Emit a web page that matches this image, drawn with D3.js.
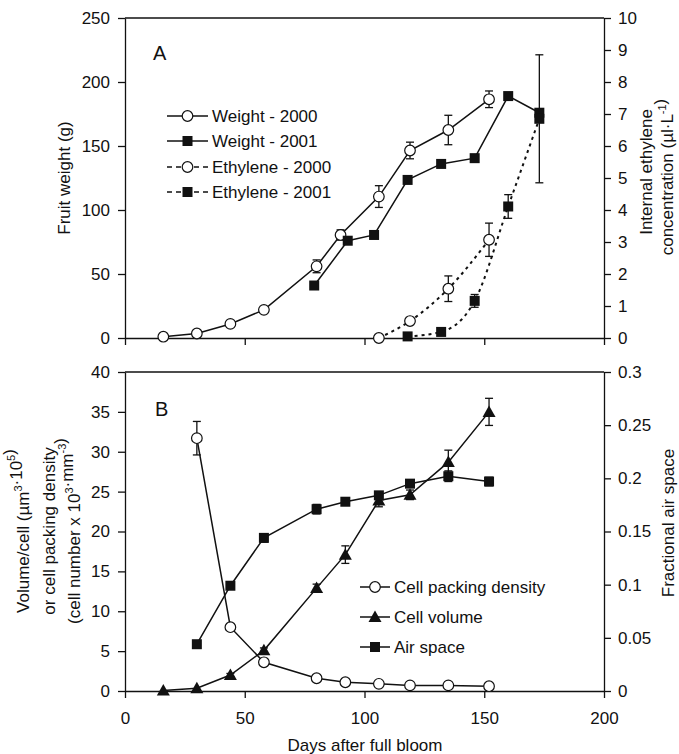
<!DOCTYPE html>
<html lang="en">
<head>
<meta charset="utf-8">
<title>Fruit weight, ethylene and cell data</title>
<style>
  body { margin: 0; background: #fff; }
  svg text { font-family: 'Liberation Sans', Arial, sans-serif; fill: #111; }
  .axis text { font-size: 17px; }
  .axis path, .axis line { stroke: #111; stroke-width: 1.3; }
</style>
<script src="https://d3js.org/d3.v7.min.js"></script>
</head>
<body>
<svg id="chart" width="679" height="754"></svg>
<script>
// panel A - fruit weight (g)
var days2000 = [16, 30, 44, 58, 80, 90, 106, 119, 135, 152];
var weight2000 = [1, 3.5, 11, 22, 56, 80.5, 110.5, 146.5, 162.5, 186.5];
var weight2000Err = [0, 0, 0, 0, 5, 4, 8.5, 6.5, 11.5, 6.5];
var days2001 = [79, 93, 104, 118, 132, 146, 160, 173];
var weight2001 = [41, 76, 80.5, 123.5, 136, 140.5, 189, 176];
// panel A - internal ethylene (ul/L)
var ethDays2000 = [106, 119, 135, 152];
var eth2000 = [0, 0.53, 1.54, 3.07];
var eth2000Err = [0, 0.1, 0.4, 0.52];
var ethDays2001 = [118, 132, 146, 160, 173];
var eth2001 = [0.05, 0.19, 1.16, 4.11, 6.85];
var eth2001Err = [0, 0, 0.2, 0.37, 2.0];
// panel B
var packDays = [30, 44, 58, 80, 92, 106, 119, 135, 152];
var packVals = [31.7, 8.0, 3.6, 1.6, 1.1, 0.9, 0.7, 0.7, 0.6];
var packErr = [2.1, 0, 0, 0, 0, 0, 0, 0, 0];
var volDays = [16, 30, 44, 58, 80, 92, 106, 119, 135, 152];
var volVals = [0.05, 0.35, 2.0, 5.1, 12.9, 17.1, 23.9, 24.6, 28.7, 35.0];
var volErr = [0, 0, 0.2, 0.3, 0.5, 1.1, 0.8, 0.6, 1.5, 1.7];
var airDays = [30, 44, 58, 80, 92, 106, 119, 135, 152];
var airVals = [0.044, 0.099, 0.144, 0.171, 0.178, 0.184, 0.195, 0.202, 0.197];
var airErr = [0, 0.002, 0.004, 0.0045, 0.002, 0.003, 0.002, 0.005, 0.004];

var xTicks = [0, 50, 100, 150, 200];
var weightTicks = [0, 50, 100, 150, 200, 250];
var ethTicks = [0, 1, 2, 3, 4, 5, 6, 7, 8, 9, 10];
var leftBTicks = [0, 5, 10, 15, 20, 25, 30, 35, 40];
var airTicks = [0, 0.05, 0.1, 0.15, 0.2, 0.25, 0.3];

var svg = d3.select("#chart");
var x = d3.scaleLinear().domain([0, 200]).range([125, 604]);
var yW = d3.scaleLinear().domain([0, 250]).range([338, 18]);
var yE = d3.scaleLinear().domain([0, 10]).range([338, 18]);
var yV = d3.scaleLinear().domain([0, 40]).range([691, 372]);
var yA = d3.scaleLinear().domain([0, 0.3]).range([691, 372]);

function zip(xs, ys, es) {
  return xs.map(function (d, i) { return { x: d, y: ys[i], e: es ? es[i] : 0 }; });
}

// axes
function frame(top, bottom, yl, yr, lt, rt, showX) {
  svg.append("g").attr("class", "axis").attr("transform", "translate(125,0)")
    .call(d3.axisLeft(yl).tickValues(lt).tickSize(7).tickPadding(8).tickSizeOuter(0));
  svg.append("g").attr("class", "axis").attr("transform", "translate(604,0)")
    .call(d3.axisRight(yr).tickValues(rt).tickSize(7).tickPadding(7).tickSizeOuter(0)
      .tickFormat(function (d) { return d === 0 ? "0" : String(+d.toFixed(2)); }));
  var ax = d3.axisBottom(x).tickValues(xTicks).tickSize(7).tickPadding(14).tickSizeOuter(0);
  if (!showX) ax.tickFormat("");
  svg.append("g").attr("class", "axis").attr("transform", "translate(0," + bottom + ")").call(ax);
  svg.append("line").attr("x1", 125).attr("x2", 604).attr("y1", top).attr("y2", top)
    .attr("stroke", "#111").attr("stroke-width", 1.3);
}
frame(18, 338, yW, yE, weightTicks, ethTicks, false);
frame(372, 691, yV, yA, leftBTicks, airTicks, true);

function errBars(data, ys) {
  var g = svg.append("g").attr("stroke", "#111").attr("stroke-width", 1.3);
  data.filter(function (d) { return d.e > 0; }).forEach(function (d) {
    var cx = x(d.x), y1 = ys(d.y + d.e), y2 = ys(d.y - d.e);
    g.append("line").attr("x1", cx).attr("x2", cx).attr("y1", y1).attr("y2", y2);
    g.append("line").attr("x1", cx - 4).attr("x2", cx + 4).attr("y1", y1).attr("y2", y1);
    g.append("line").attr("x1", cx - 4).attr("x2", cx + 4).attr("y1", y2).attr("y2", y2);
  });
}

function series(data, ys, shape, dash, curve) {
  var line = d3.line().x(function (d) { return x(d.x); }).y(function (d) { return ys(d.y); })
    .curve(curve || d3.curveLinear);
  svg.append("path").datum(data).attr("fill", "none").attr("stroke", "#111")
    .attr("stroke-width", dash ? 2 : 1.5).attr("stroke-dasharray", dash || null).attr("d", line);
  errBars(data, ys);
  data.forEach(function (d) { marker(x(d.x), ys(d.y), shape); });
}

function marker(cx, cy, shape) {
  if (shape === "circle") {
    svg.append("circle").attr("cx", cx).attr("cy", cy).attr("r", 5.3)
      .attr("fill", "#fff").attr("stroke", "#111").attr("stroke-width", 1.2);
  } else if (shape === "square") {
    svg.append("rect").attr("x", cx - 5).attr("y", cy - 5).attr("width", 10).attr("height", 10)
      .attr("fill", "#111");
  } else {
    svg.append("path").attr("d", "M" + cx + "," + (cy - 6.5) + "L" + (cx + 6.5) + "," + (cy + 5) + "L" + (cx - 6.5) + "," + (cy + 5) + "Z")
      .attr("fill", "#111");
  }
}

// panel A
series(zip(days2000, weight2000, weight2000Err), yW, "circle");
series(zip(days2001, weight2001), yW, "square");
series(zip(ethDays2000, eth2000, eth2000Err), yE, "circle", "3,4", d3.curveMonotoneX);
series(zip(ethDays2001, eth2001, eth2001Err), yE, "square", "3,4", d3.curveMonotoneX);

// panel B
series(zip(packDays, packVals, packErr), yV, "circle");
series(zip(volDays, volVals, volErr), yV, "triangle");
series(zip(airDays, airVals, airErr), yA, "square");

// legends
function legend(x1, x2, y, shape, dash, label) {
  svg.append("line").attr("x1", x1).attr("x2", x2).attr("y1", y).attr("y2", y)
    .attr("stroke", "#111").attr("stroke-width", 1.5).attr("stroke-dasharray", dash || null);
  marker((x1 + x2) / 2, y, shape);
  svg.append("text").attr("x", x2 + 4).attr("y", y + 6).attr("font-size", 17).text(label);
}
legend(167, 208, 116, "circle", null, "Weight - 2000");
legend(167, 208, 141, "square", null, "Weight - 2001");
legend(167, 208, 167, "circle", "5,4", "Ethylene - 2000");
legend(167, 208, 192, "square", "5,4", "Ethylene - 2001");
legend(360, 390, 587, "circle", null, "Cell packing density");
legend(360, 390, 617, "triangle", null, "Cell volume");
legend(360, 390, 647, "square", null, "Air space");

svg.append("text").attr("x", 153).attr("y", 60).attr("font-size", 20).text("A");
svg.append("text").attr("x", 155).attr("y", 416).attr("font-size", 20).text("B");

// axis titles
function vtext(cx, cy, parts, rot) {
  var t = svg.append("text").attr("transform", "translate(" + cx + "," + cy + ") rotate(" + rot + ")")
    .attr("text-anchor", "middle").attr("font-size", 17);
  parts.forEach(function (p) {
    if (p[1]) {
      t.append("tspan").attr("font-size", 11).attr("dy", -7).text(p[0]);
      t.append("tspan").attr("dy", 7).text("");
    } else {
      t.append("tspan").text(p[0]);
    }
  });
}
vtext(70, 178, [["Fruit weight (g)"]], -90);
vtext(652, 172, [["Internal ethylene"]], -90);
vtext(673, 177, [["concentration (µl·L"], ["-1", true], [")"]], -90);
vtext(29, 531, [["Volume/cell (µm"], ["3", true], ["·10"], ["5", true], [")"]], -90);
vtext(55, 531, [["or cell packing density"]], -90);
vtext(80, 531, [["(cell number x 10"], ["3", true], ["·mm"], ["-3", true], [")"]], -90);
vtext(674, 523, [["Fractional air space"]], -90);
svg.append("text").attr("x", 365).attr("y", 751).attr("text-anchor", "middle").attr("font-size", 17)
  .text("Days after full bloom");
</script>
</body>
</html>
